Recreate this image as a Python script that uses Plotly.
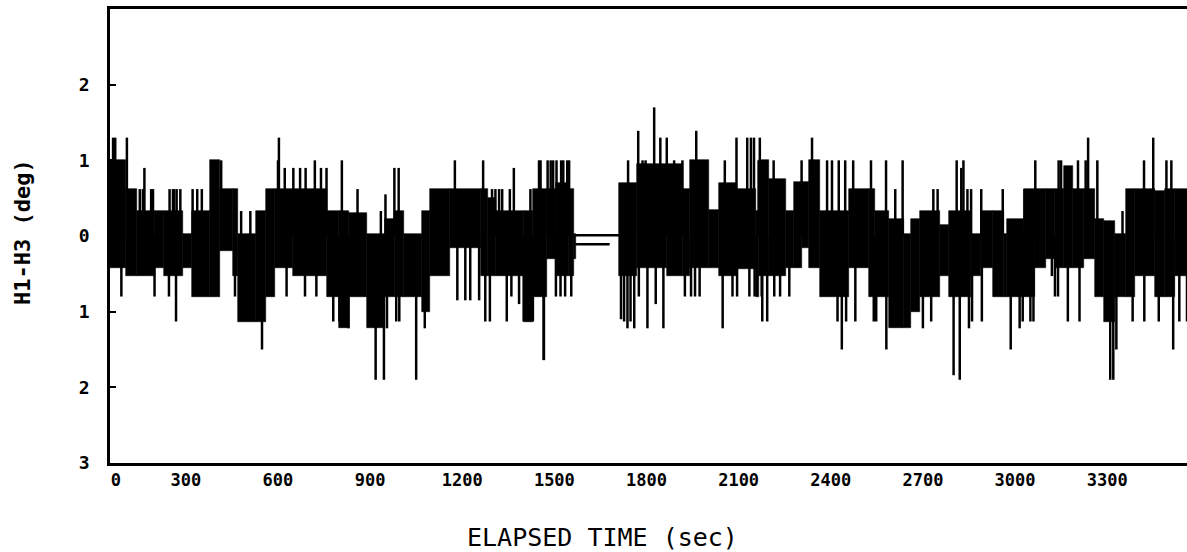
import plotly.graph_objects as go

# ---------------- data ----------------
# plateau (dense core) segments: start time (s), upper and lower level (deg)
plat_t = [46, 106, 140, 200, 230, 290, 320, 380, 410, 455, 470, 530, 560, 590, 650,
          760, 800, 830, 890, 950, 980, 1010, 1070, 1095, 1160, 1260, 1285, 1310, 1400, 1430,
          1477, 1504, 1548, 1565, 1570, 1710, 1770, 1868, 1920, 1940, 2005, 2035, 2096,
          2156, 2167, 2200, 2255, 2280, 2305, 2330, 2365, 2460, 2525, 2545, 2591, 2640,
          2660, 2690, 2756, 2786,
          2857, 2890, 2928, 2965, 2975, 3030, 3065, 3100, 3130, 3160, 3190, 3225, 3262,
          3290, 3325, 3360, 3390, 3455, 3488, 3520]
plat_hi = [1.0, 0.62, 0.33, 0.33, 0.33, 0.02, 0.33, 1.0, 0.62, 0.62, 0.02, 0.33, 0.62, 0.62, 0.62,
           0.33, 0.33, 0.30, 0.02, 0.22, 0.33, 0.02, 0.33, 0.62, 0.62, 0.62, 0.50, 0.33, 0.33, 0.62,
           0.62, 0.70, 0.62, 0.02, None, 0.70, 0.95, 0.95, 0.62, 1.0, 0.35, 0.70, 0.62,
           0.33, 1.0, 0.75, 0.33, 0.72, 0.72, 1.0, 0.33, 0.62, 0.62, 0.33, 0.22, 0.02,
           0.22, 0.33, 0.15, 0.33,
           0.02, 0.33, 0.33, 0.02, 0.22, 0.62, 0.62, 0.62, 0.62, 0.92, 0.62, 0.62, 0.22,
           0.20, 0.02, 0.62, 0.62, 0.60, 0.62, 0.62]
plat_lo = [-0.42, -0.53, -0.53, -0.42, -0.53, -0.42, -0.80, -0.80, -0.20, -0.53, -1.13, -1.13, -0.80, -0.42, -0.53,
           -0.80, -1.22, -0.80, -1.22, -0.80, -0.80, -0.80, -1.0, -0.53, -0.16, -0.53, -0.53, -0.53, -1.13, -0.80,
           -0.30, -0.53, -0.53, -0.30, None, -0.53, -0.42, -0.53, -0.53, -0.42, -0.42, -0.53, -0.44,
           -0.80, -0.53, -0.53, -0.42, -0.42, -0.16, -0.42, -0.80, -0.42, -0.80, -0.80, -1.22, -1.22,
           -1.0, -0.80, -0.53, -0.80,
           -0.53, -0.42, -0.80, -0.80, -0.80, -0.80, -0.42, -0.30, -0.42, -0.42, -0.42, -0.30, -0.80,
           -1.13, -0.80, -0.80, -0.53, -0.80, -0.80, -0.53]
t_end = 3565

# isolated excursions (spikes): time (s), extreme value (deg)
spike_t = [63, 70, 90, 108, 150, 160, 165, 187, 193, 198, 245, 247, 258, 262, 268, 270, 282,
           322, 337, 352, 415, 460, 480, 510, 548, 600, 603, 622, 628, 650, 672, 688, 690,
           720, 725, 740, 758,
           780, 800, 808, 830, 859, 900, 918, 935, 945, 950, 955, 979, 985, 993, 995, 1050,
           1078, 1176, 1184, 1210, 1226, 1255, 1268, 1275, 1290, 1297, 1308, 1320, 1330,
           1345, 1355, 1360, 1368, 1385, 1400, 1415, 1422, 1430, 1450, 1465,
           1455, 1466, 1478, 1488, 1496, 1505, 1507, 1520, 1522, 1529, 1535, 1542, 1548, 1555,
           1717, 1727, 1738, 1740, 1748, 1760, 1773, 1775, 1787, 1797, 1803, 1825, 1830, 1845,
           1855, 1866, 1890, 1917, 1925, 1945, 1958, 1962, 1973, 2048, 2055, 2080, 2093, 2095,
           2128, 2135, 2140, 2150, 2152, 2165,
           2169, 2175, 2177, 2193, 2214, 2216, 2235, 2265, 2305, 2339, 2388, 2404, 2422, 2426,
           2436, 2447, 2450, 2473, 2480, 2531, 2540, 2548, 2580, 2581, 2610, 2634, 2700, 2727,
           2734, 2748, 2800, 2810, 2820, 2825, 2832, 2845, 2850,
           2857, 2860, 2890, 2892, 2960, 2986, 3015, 3025, 3031, 3050, 3060, 3066, 3120, 3130,
           3140, 3142, 3150, 3172, 3205, 3210, 3230, 3238, 3268, 3310, 3320, 3330, 3350, 3383,
           3420, 3421, 3450, 3468, 3493, 3509, 3515, 3535, 3560]
spike_v = [1.30, 1.30, -0.80, 1.30, 0.62, 0.62, 0.90, 0.62, 0.62, -0.80, -0.80, 0.62, 0.62, 0.62, -1.13, 0.62, 0.62,
           0.62, 0.62, 0.62, 1.00, -0.80, 0.33, 0.33, -1.50, 1.00, 1.30, 0.90, -0.80, 0.90, 0.90, -0.80, 0.90,
           1.00, -0.80, 0.90, 0.90,
           -1.13, -1.13, 1.00, -1.22, 0.62, -1.13, -1.90, 0.33, -1.90, 0.55, -1.22, 0.90, -1.13, 0.90, -1.13, -1.90,
           -1.22, 1.00, -0.85, -0.85, -0.85, -0.85, 1.00, -1.13, -1.13, 0.62, 0.62, 0.62, 0.62,
           -1.13, 0.62, -0.80, 0.90, -0.90, -1.13, -1.13, 0.62, -1.13, 1.00, -1.64,
           1.00, -1.64, 1.00, 1.00, 1.00, -0.80, 1.00, -0.80, 1.00, 1.00, -0.80, 1.00, 1.00, -0.80,
           -1.10, -1.13, -1.22, 1.00, -1.13, -1.22, 1.39, -0.80, 1.00, 1.00, -1.22, 1.70, -0.90, 1.30,
           -1.22, 1.30, 1.00, 1.00, -0.80, -0.80, -0.80, 1.39, -0.80, -1.22, 1.00, -0.80, 1.30, -0.80,
           1.30, -0.80, 1.30, 1.30, -0.80, 1.00,
           1.30, -0.80, -1.13, -1.13, 1.00, -0.80, -0.80, -0.80, 1.00, 1.30, 1.00, 1.00, -1.13, 1.00,
           -1.50, 1.00, -1.13, 1.00, -1.13, 1.00, -1.13, -1.13, 1.00, -1.50, 0.62, 1.00, -1.22, -1.13,
           0.62, 0.62, -1.84, 1.00, -1.90, 0.90, 1.00, 0.62, -1.22,
           0.62, -1.13, 0.62, -1.13, 0.62, -1.50, -1.22, -1.13, 0.62, -1.13, -1.13, 1.00, -0.53, -0.80,
           -0.80, 1.00, 1.00, -1.13, 1.00, -1.13, 1.00, 1.30, 1.00, -1.90, -1.90, -1.50, 0.33, -1.13,
           1.00, -1.13, 1.30, -1.13, 1.00, 1.00, -1.50, -1.13, -1.13]

# flat traces during the data gap: (start, end, level)
gap_lines = [(1568, 1712, 0.01), (1568, 1680, -0.11)]

x_tick_vals = [72, 300, 600, 900, 1200, 1500, 1800, 2100, 2400, 2700, 3000, 3300]
x_tick_text = ["0", "300", "600", "900", "1200", "1500", "1800", "2100", "2400", "2700", "3000", "3300"]
y_tick_vals = [3, 2, 1, 0, -1, -2, -3]
y_tick_text = ["-", "2", "1", "0", "1", "2", "3"]

# ---------------- figure ----------------
bounds = plat_t + [t_end]
bx, bw, bb, bh = [], [], [], []
for i in range(len(plat_t)):
    if plat_hi[i] is None:
        continue
    bx.append((bounds[i] + bounds[i + 1]) / 2)
    bw.append(bounds[i + 1] - bounds[i])
    bb.append(plat_lo[i])
    bh.append(plat_hi[i] - plat_lo[i])

fig = go.Figure()
fig.add_trace(go.Bar(x=bx, y=bh, base=bb, width=bw, marker=dict(color="black",
                     line=dict(color="black", width=0.6)), hoverinfo="skip"))

sx, sy = [], []
for t, v in zip(spike_t, spike_v):
    sx += [t, t, None]
    sy += [0, v, None]
fig.add_trace(go.Scatter(x=sx, y=sy, mode="lines", line=dict(color="black", width=2.5),
                         hoverinfo="skip"))

for t0, t1, lev in gap_lines:
    fig.add_trace(go.Scatter(x=[t0, t1], y=[lev, lev], mode="lines",
                             line=dict(color="black", width=2.5), hoverinfo="skip"))

mono = "DejaVu Sans Mono"
fig.update_layout(
    width=1187, height=552,
    margin=dict(l=110, r=0, t=9, b=89),
    paper_bgcolor="white", plot_bgcolor="white",
    showlegend=False, bargap=0,
    font=dict(family=mono, color="black"),
    xaxis=dict(range=[53, 3560], showgrid=False, zeroline=False,
               showline=True, linecolor="black", linewidth=2.5, mirror=True,
               ticks="", tickvals=x_tick_vals, ticktext=x_tick_text,
               tickfont=dict(family=mono, size=17, color="black", weight="bold")),
    yaxis=dict(range=[-3, 3], showgrid=False, zeroline=False,
               showline=True, linecolor="black", linewidth=2.5, mirror=False,
               ticks="inside", ticklen=6, tickwidth=2, tickcolor="black",
               tickvals=y_tick_vals, ticktext=y_tick_text,
               ticklabelstandoff=14,
               tickfont=dict(family=mono, size=18, color="black", weight="bold")),
    annotations=[
        dict(text="ELAPSED TIME (sec)", xref="paper", yref="paper",
             x=(602 - 110) / 1077, y=(463 - 537) / 454, xanchor="center", yanchor="middle",
             showarrow=False, font=dict(family=mono, size=25, color="black")),
        dict(text="H1-H3 (deg)", xref="paper", yref="paper", textangle=-90,
             x=(22 - 110) / 1077, y=(463 - 232) / 454, xanchor="center", yanchor="middle",
             showarrow=False, font=dict(family=mono, size=22, color="black", weight="bold")),
    ],
)

fig.write_html("out.html")
